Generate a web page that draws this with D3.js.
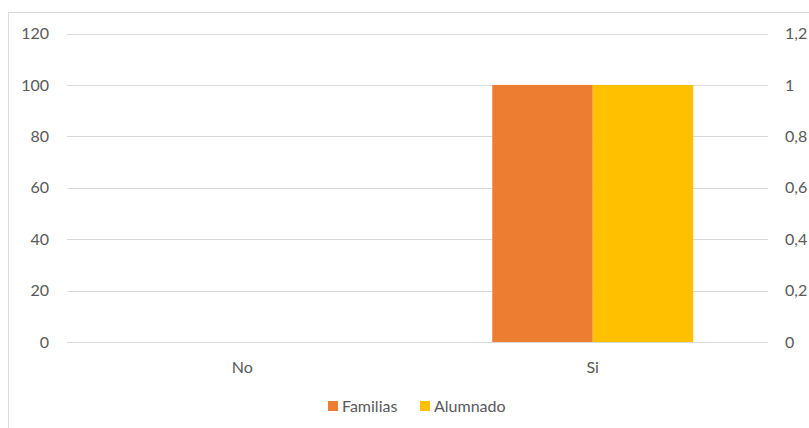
<!DOCTYPE html>
<html><head><meta charset="utf-8">
<script src="https://cdn.jsdelivr.net/npm/d3@7"></script>
<style>body{margin:0;background:#fff}svg{display:block}text{font-family:Lato,"Open Sans",sans-serif;fill:#595959}</style>
</head><body><svg id="c" width="809" height="428"></svg>
<script>
const categories = ["No", "Si"];
const familias = [0, 100];
const alumnado = [0, 1];
const leftTicks = [0, 20, 40, 60, 80, 100, 120];
const rightTicks = [0, 0.2, 0.4, 0.6, 0.8, 1, 1.2];
const seriesNames = ["Familias", "Alumnado"];
const colors = ["#ED7D31", "#FFC000"];

const svg = d3.select("#c");
svg.append("rect").attr("x", 8.5).attr("y", 12.5).attr("width", 820).attr("height", 430)
  .attr("fill", "#fff").attr("stroke", "#d9d9d9");

const x0 = 67, x1 = 768, yTop = 33.5, yBot = 342;
const x = d3.scaleBand().domain(categories).range([x0, x1]).paddingInner(0.4266).paddingOuter(0.2133);
const xs = d3.scaleBand().domain(seriesNames).range([0, x.bandwidth()]);
const yL = d3.scaleLinear().domain([0, 120]).range([yBot, yTop]);
const yR = d3.scaleLinear().domain([0, 1.2]).range([yBot, yTop]);
const fs = 16;

svg.append("g").selectAll("line").data(leftTicks).join("line")
  .attr("x1", x0).attr("x2", x1).attr("y1", d => Math.round(yL(d)) + 0.5).attr("y2", d => Math.round(yL(d)) + 0.5)
  .attr("stroke", "#d9d9d9").attr("stroke-width", 1);

svg.append("g").selectAll("text").data(leftTicks).join("text")
  .attr("x", 49).attr("y", d => yL(d)).attr("dy", "0.35em").attr("text-anchor", "end")
  .attr("font-size", fs).text(d => d);

const fmtR = d => String(d).replace(".", ",");
svg.append("g").selectAll("text").data(rightTicks).join("text")
  .attr("x", 785).attr("y", d => yR(d)).attr("dy", "0.35em").attr("text-anchor", "start")
  .attr("font-size", fs).text(fmtR);

const g = svg.append("g");
categories.forEach((c, i) => {
  g.append("rect").attr("x", x(c) + xs("Familias")).attr("width", xs.bandwidth())
    .attr("y", yL(familias[i])).attr("height", yBot - yL(familias[i])).attr("fill", colors[0]);
  g.append("rect").attr("x", x(c) + xs("Alumnado")).attr("width", xs.bandwidth())
    .attr("y", yR(alumnado[i])).attr("height", yBot - yR(alumnado[i])).attr("fill", colors[1]);
});

svg.append("g").selectAll("text").data(categories).join("text")
  .attr("x", d => x(d) + x.bandwidth() / 2).attr("y", 367).attr("dy", "0.35em").attr("text-anchor", "middle")
  .attr("font-size", fs).text(d => d);

const leg = svg.append("g");
const legX = [328, 420];
seriesNames.forEach((s, i) => {
  leg.append("rect").attr("x", legX[i]).attr("y", 401).attr("width", 10).attr("height", 10).attr("fill", colors[i]);
  leg.append("text").attr("x", legX[i] + 14).attr("y", 406).attr("dy", "0.35em").attr("font-size", fs).text(s);
});
</script></body></html>
